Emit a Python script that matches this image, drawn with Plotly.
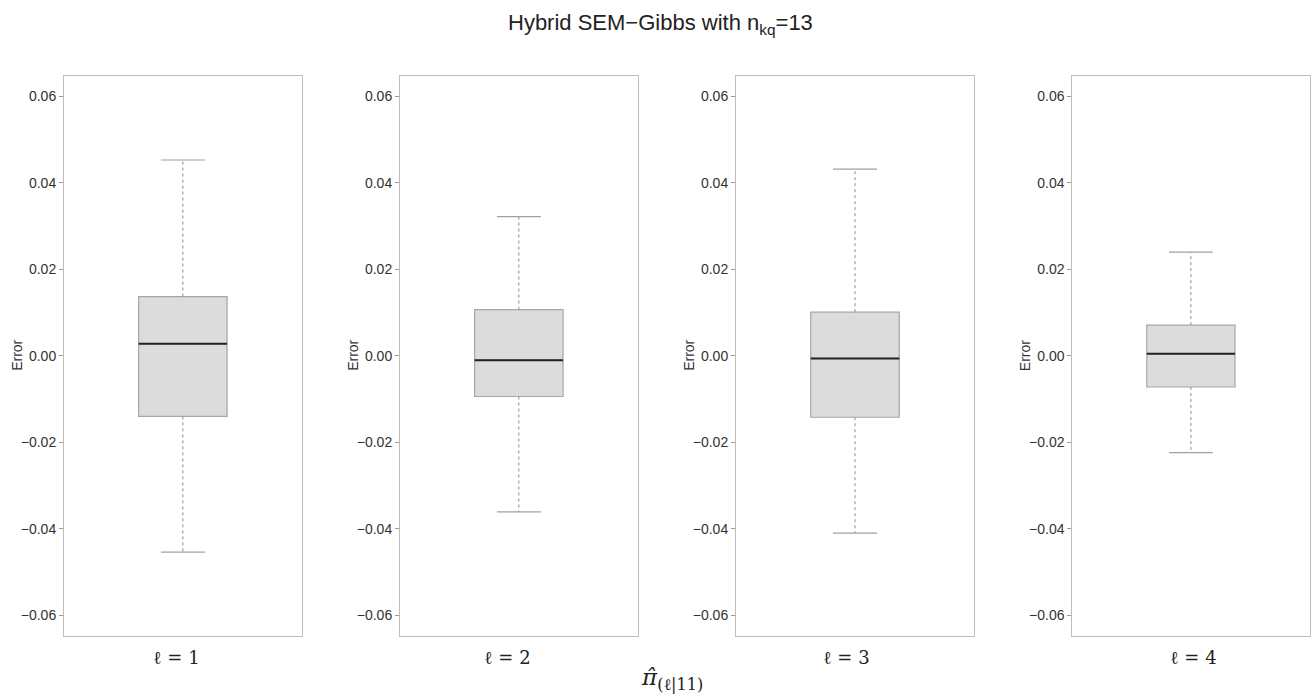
import plotly.graph_objects as go

# ---- data ----
panels = ["ℓ = 1", "ℓ = 2", "ℓ = 3", "ℓ = 4"]
upper_whisker = [0.0453, 0.0322, 0.0432, 0.0240]
q3_values = [0.0137, 0.0107, 0.0101, 0.0071]
median_values = [0.0028, -0.0010, -0.0006, 0.0005]
q1_values = [-0.0140, -0.0094, -0.0142, -0.0072]
lower_whisker = [-0.0454, -0.0361, -0.0410, -0.0224]
y_ticks = [-0.06, -0.04, -0.02, 0.00, 0.02, 0.04, 0.06]

W, H = 1312, 697
panel_left_px = [64, 400, 736, 1072.3]
panel_right_px = [301.7, 637.7, 974, 1309.5]
label_center_px = [176, 507, 846, 1193]
top_px, bottom_px = 75.7, 636

BOX_W = 0.372
CAP_HALF = 0.0925
YR = [-0.0648, 0.0648]

fig = go.Figure()
layout = dict(
    width=W, height=H,
    margin=dict(l=0, r=0, t=0, b=0),
    paper_bgcolor="white", plot_bgcolor="white",
    showlegend=False,
    font=dict(family="Liberation Sans, Arial, sans-serif", color="#333333", size=14),
)
annotations = []

for i in range(4):
    sfx = "" if i == 0 else str(i + 1)
    xa, ya = "x" + sfx, "y" + sfx
    # whiskers (dotted)
    fig.add_trace(go.Scatter(x=[0, 0], y=[q3_values[i], upper_whisker[i]], mode="lines",
                             line=dict(color="#8c8c8c", width=1, dash="dot"),
                             xaxis=xa, yaxis=ya, hoverinfo="skip"))
    fig.add_trace(go.Scatter(x=[0, 0], y=[q1_values[i], lower_whisker[i]], mode="lines",
                             line=dict(color="#8c8c8c", width=1, dash="dot"),
                             xaxis=xa, yaxis=ya, hoverinfo="skip"))
    # caps
    for v in (upper_whisker[i], lower_whisker[i]):
        fig.add_trace(go.Scatter(x=[-CAP_HALF, CAP_HALF], y=[v, v], mode="lines",
                                 line=dict(color="#a0a0a0", width=1.2),
                                 xaxis=xa, yaxis=ya, hoverinfo="skip"))
    # box
    fig.add_trace(go.Box(x=[0], q1=[q1_values[i]], median=[median_values[i]], q3=[q3_values[i]],
                         lowerfence=[q1_values[i]], upperfence=[q3_values[i]],
                         width=BOX_W, whiskerwidth=0, boxpoints=False,
                         fillcolor="#dcdcdc", line=dict(color="#a6a6a6", width=1.2),
                         xaxis=xa, yaxis=ya, name=panels[i]))
    # median
    fig.add_trace(go.Scatter(x=[-BOX_W / 2, BOX_W / 2], y=[median_values[i], median_values[i]],
                             mode="lines", line=dict(color="#222222", width=2),
                             xaxis=xa, yaxis=ya, hoverinfo="skip"))

    layout["xaxis" + sfx] = dict(
        domain=[panel_left_px[i] / W, panel_right_px[i] / W], anchor=ya,
        range=[-0.5, 0.5], showticklabels=False, ticks="", showgrid=False, zeroline=False,
        showline=True, mirror=True, linecolor="#bdbdbd", linewidth=1,
    )
    layout["yaxis" + sfx] = dict(
        domain=[1 - bottom_px / H, 1 - top_px / H], anchor=xa,
        range=YR, tickvals=y_ticks, tickformat=".2f",
        ticks="outside", ticklen=4, tickcolor="#999999",
        tickfont=dict(size=14, color="#333333"),
        showgrid=False, zeroline=False,
        showline=True, mirror=True, linecolor="#bdbdbd", linewidth=1,
    )
    annotations.append(dict(text="Error", xref=xa + " domain", yref=ya + " domain",
                            x=0, y=0.5, xshift=-47, textangle=-90, showarrow=False,
                            xanchor="center", yanchor="middle",
                            font=dict(size=14, color="#333333")))
    annotations.append(dict(text=panels[i], xref="paper", yref="paper",
                            x=label_center_px[i] / W, y=1 - 657 / H, showarrow=False,
                            xanchor="center", yanchor="middle",
                            font=dict(family="DejaVu Serif, Liberation Serif, serif", size=18, color="#222222")))

annotations.append(dict(text="Hybrid SEM\u2212Gibbs with n<sub>kq</sub>=13", xref="paper", yref="paper",
                        x=660 / W, y=1 - 24 / H, showarrow=False, xanchor="center", yanchor="middle",
                        font=dict(size=22, color="#222222")))
annotations.append(dict(text="<i>π̂</i><sub>(ℓ|11)</sub>", xref="paper", yref="paper",
                        x=672 / W, y=1 - 679 / H, showarrow=False, xanchor="center", yanchor="middle",
                        font=dict(family="DejaVu Serif, serif", size=23, color="#222222")))

layout["annotations"] = annotations
fig.update_layout(**layout)
fig.write_html("out.html")
